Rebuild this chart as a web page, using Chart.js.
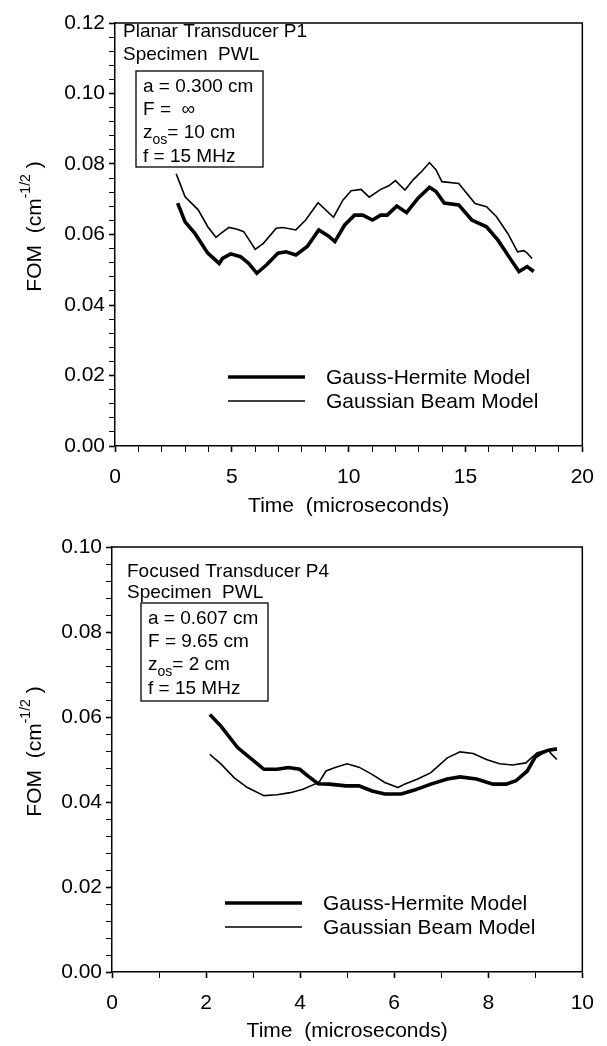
<!DOCTYPE html>
<html>
<head>
<meta charset="utf-8">
<script src="https://cdn.jsdelivr.net/npm/chart.js@4"></script>
<style>
  body { margin: 0; background: #fff; }
  #wrap { position: relative; width: 607px; height: 1046px; }
  canvas { position: absolute; left: 0; }
</style>
</head>
<body>
<div id="wrap">
  <canvas id="planarChart" width="607" height="524" style="top:0"></canvas>
  <canvas id="focusedChart" width="607" height="522" style="top:524px"></canvas>
</div>
<script>
// Planar transducer P1 (top)
const planarTimeGH = [2.68, 3.0, 3.42, 3.97, 4.46, 4.6, 4.95, 5.37, 5.72, 6.07, 6.49, 6.97, 7.32, 7.74, 8.23, 8.72, 9.13, 9.41, 9.83, 10.25, 10.6, 11.02, 11.37, 11.65, 12.06, 12.48, 12.97, 13.46, 13.74, 14.09, 14.71, 15.27, 15.9, 16.39, 16.95, 17.29, 17.64, 17.92];
const planarGH = [0.0689, 0.0636, 0.0603, 0.0547, 0.0518, 0.0532, 0.0545, 0.0537, 0.0518, 0.0490, 0.0514, 0.0547, 0.0551, 0.0542, 0.0566, 0.0613, 0.0596, 0.0580, 0.0627, 0.0655, 0.0655, 0.0641, 0.0655, 0.0655, 0.0681, 0.0662, 0.0703, 0.0734, 0.0722, 0.0689, 0.0684, 0.0641, 0.0622, 0.0584, 0.0528, 0.0495, 0.0509, 0.0495];
const planarTimeGB = [2.62, 3.0, 3.56, 3.97, 4.32, 4.53, 4.88, 5.23, 5.51, 6.0, 6.35, 6.9, 7.18, 7.74, 8.16, 8.69, 9.35, 9.76, 10.11, 10.53, 10.88, 11.37, 11.72, 12.0, 12.41, 12.76, 13.11, 13.46, 13.74, 13.99, 14.71, 15.41, 15.9, 16.32, 16.81, 17.23, 17.5, 17.64, 17.85];
const planarGB = [0.0772, 0.0707, 0.0670, 0.0622, 0.0592, 0.0603, 0.0620, 0.0615, 0.0608, 0.0558, 0.0575, 0.0618, 0.0620, 0.0613, 0.0641, 0.0690, 0.0649, 0.0698, 0.0724, 0.0728, 0.0706, 0.0728, 0.0738, 0.0753, 0.0726, 0.0755, 0.0778, 0.0804, 0.0783, 0.0750, 0.0745, 0.0688, 0.0679, 0.0651, 0.0603, 0.0551, 0.0554, 0.0547, 0.0532];

// Focused transducer P4 (bottom)
const focusedTimeGH = [2.08, 2.32, 2.67, 3.02, 3.23, 3.51, 3.75, 3.99, 4.17, 4.38, 4.62, 4.97, 5.25, 5.53, 5.8, 6.15, 6.43, 6.78, 7.13, 7.4, 7.75, 8.1, 8.38, 8.59, 8.83, 9.0, 9.14, 9.28, 9.46];
const focusedGH = [0.0606, 0.0578, 0.0528, 0.0496, 0.0477, 0.0477, 0.0481, 0.0477, 0.0461, 0.0443, 0.0442, 0.0438, 0.0438, 0.0426, 0.0419, 0.0419, 0.0428, 0.0442, 0.0454, 0.0459, 0.0454, 0.0442, 0.0442, 0.0450, 0.0473, 0.0506, 0.0516, 0.0522, 0.0525];
const focusedTimeGB = [2.08, 2.32, 2.6, 2.88, 3.23, 3.51, 3.79, 4.06, 4.31, 4.41, 4.55, 4.76, 5.0, 5.25, 5.53, 5.8, 6.08, 6.22, 6.5, 6.78, 7.13, 7.4, 7.68, 7.96, 8.24, 8.52, 8.8, 9.04, 9.28, 9.35, 9.46];
const focusedGB = [0.0512, 0.0489, 0.0457, 0.0434, 0.0415, 0.0417, 0.0422, 0.0430, 0.0442, 0.0448, 0.0473, 0.0482, 0.0490, 0.0482, 0.0465, 0.0446, 0.0434, 0.0442, 0.0454, 0.0469, 0.0504, 0.0518, 0.0514, 0.0500, 0.0490, 0.0487, 0.0492, 0.0516, 0.0522, 0.0512, 0.0500];

const seriesNames = ['Gauss-Hermite Model', 'Gaussian Beam Model'];
const xTitle = 'Time  (microseconds)';
const yTitle = 'FOM  (cm^{-1/2} )';
const planarHeader = ['Planar Transducer P1', 'Specimen  PWL'];
const planarParams = ['a = 0.300 cm', 'F =  \u221E', 'z_{os}= 10 cm', 'f = 15 MHz'];
const focusedHeader = ['Focused Transducer P4', 'Specimen  PWL'];
const focusedParams = ['a = 0.607 cm', 'F = 9.65 cm', 'z_{os}= 2 cm', 'f = 15 MHz'];

const FONT = '"Liberation Sans", Arial, Helvetica, sans-serif';

function pts(xs, ys) { return xs.map((x, i) => ({ x: x, y: ys[i] })); }

// draws text with _{sub} and ^{sup} pieces, returns width
function richText(ctx, str, x, y, size, measureOnly) {
  const parts = str.split(/(_\{[^}]*\}|\^\{[^}]*\})/).filter(s => s.length);
  let cx = x;
  parts.forEach(p => {
    let t = p, s = size, dy = 0;
    if (p.startsWith('_{')) { t = p.slice(2, -1); s = Math.round(size * 0.72); dy = size * 0.3; }
    else if (p.startsWith('^{')) { t = p.slice(2, -1); s = Math.round(size * 0.68); dy = -size * 0.42; }
    ctx.font = s + 'px ' + FONT;
    if (!measureOnly) ctx.fillText(t, cx, y + dy);
    cx += ctx.measureText(t).width;
  });
  return cx - x;
}

const figurePlugin = {
  id: 'figure',
  afterDraw(chart, args, o) {
    const { ctx, chartArea: a } = chart;
    ctx.save();
    ctx.strokeStyle = '#000';
    ctx.fillStyle = '#000';
    // close the frame (top and right)
    ctx.lineWidth = 1.5;
    ctx.beginPath();
    ctx.moveTo(a.left, a.top);
    ctx.lineTo(a.right, a.top);
    ctx.lineTo(a.right, a.bottom);
    ctx.stroke();

    ctx.textAlign = 'left';
    ctx.textBaseline = 'alphabetic';
    o.header.forEach((t, i) => richText(ctx, t, a.left + o.headerX, a.top + o.headerY[i], 19));

    const b = o.box;
    ctx.lineWidth = 1.3;
    ctx.strokeRect(a.left + b.x, a.top + b.y, b.w, b.h);
    o.params.forEach((t, i) => richText(ctx, t, a.left + b.x + 7, a.top + b.y + o.paramY[i], 19));

    // legend
    chart.data.datasets.forEach((ds, i) => {
      const y = a.bottom + o.legendY[i];
      ctx.lineWidth = ds.borderWidth;
      ctx.beginPath();
      ctx.moveTo(a.left + 113, y);
      ctx.lineTo(a.left + 190, y);
      ctx.stroke();
      ctx.font = '21px ' + FONT;
      ctx.textBaseline = 'middle';
      ctx.fillText(ds.label, a.left + 211, y + 1);
    });

    // y axis title with superscript
    ctx.textBaseline = 'middle';
    const w = richText(ctx, yTitle, 0, 0, 21, true);
    ctx.translate(35, (a.top + a.bottom) / 2 + o.yTitleShift);
    ctx.rotate(-Math.PI / 2);
    richText(ctx, yTitle, -w / 2, 0, 21);
    ctx.restore();
  }
};

function isMajor(v, major) {
  const r = v / major;
  return Math.abs(r - Math.round(r)) < 1e-6;
}

function makeChart(id, cfg) {
  return new Chart(document.getElementById(id), {
    type: 'line',
    data: {
      datasets: [{
        label: seriesNames[0],
        data: pts(cfg.timeGH, cfg.gh),
        borderColor: '#000',
        borderWidth: 3.6,
        pointRadius: 0,
        tension: 0
      }, {
        label: seriesNames[1],
        data: pts(cfg.timeGB, cfg.gb),
        borderColor: '#000',
        borderWidth: 1.6,
        pointRadius: 0,
        tension: 0
      }]
    },
    options: {
      responsive: false,
      animation: false,
      layout: { padding: { left: 0, top: cfg.top, right: 607 - cfg.right, bottom: 0 } },
      plugins: {
        legend: { display: false },
        tooltip: { enabled: false },
        figure: cfg.figure
      },
      scales: {
        x: {
          type: 'linear',
          min: 0, max: cfg.xMax,
          afterFit: s => { s.height = cfg.height - cfg.bottom; },
          border: { color: '#000', width: 1.5 },
          grid: {
            drawOnChartArea: false, tickLength: 6, tickColor: '#000',
            tickWidth: c => isMajor(c.tick.value, cfg.xMajor) ? 1.6 : 1
          },
          ticks: {
            stepSize: 1, autoSkip: false, maxRotation: 0, padding: 13, color: '#000',
            font: { family: FONT, size: 21 },
            callback: v => isMajor(v, cfg.xMajor) ? String(Math.round(v)) : ''
          },
          title: {
            display: true, text: xTitle, color: '#000',
            font: { family: FONT, size: 21 },
            padding: { top: 0, bottom: cfg.titlePad }
          }
        },
        y: {
          min: 0, max: cfg.yMax,
          afterFit: s => { s.width = cfg.left; },
          border: { color: '#000', width: 1.5 },
          grid: {
            drawOnChartArea: false, tickLength: 6, tickColor: '#000',
            tickWidth: c => isMajor(c.tick.value, 0.02) ? 1.6 : 1
          },
          ticks: {
            stepSize: 0.004, autoSkip: false, padding: 4, color: '#000',
            font: { family: FONT, size: 21 },
            callback: v => isMajor(v, 0.02) ? v.toFixed(2) : ''
          }
        }
      }
    },
    plugins: [figurePlugin]
  });
}

makeChart('planarChart', {
  timeGH: planarTimeGH, gh: planarGH, timeGB: planarTimeGB, gb: planarGB,
  xMax: 20, xMajor: 5, yMax: 0.12,
  left: 115, right: 593, top: 23, bottom: 446, height: 524, titlePad: 5,
  figure: {
    header: planarHeader, headerX: 8, headerY: [14, 37],
    box: { x: 21, y: 48, w: 127, h: 96 },
    params: planarParams, paramY: [21, 44, 67, 91],
    legendY: [-69, -45], yTitleShift: -8
  }
});

makeChart('focusedChart', {
  timeGH: focusedTimeGH, gh: focusedGH, timeGB: focusedTimeGB, gb: focusedGB,
  xMax: 10, xMajor: 2, yMax: 0.10,
  left: 112, right: 591, top: 23, bottom: 448, height: 522, titlePad: 2,
  figure: {
    header: focusedHeader, headerX: 15, headerY: [30, 51],
    box: { x: 29, y: 56, w: 127, h: 98 },
    params: focusedParams, paramY: [21, 44, 67, 91],
    legendY: [-69, -45], yTitleShift: -8
  }
});
</script>
</body>
</html>
